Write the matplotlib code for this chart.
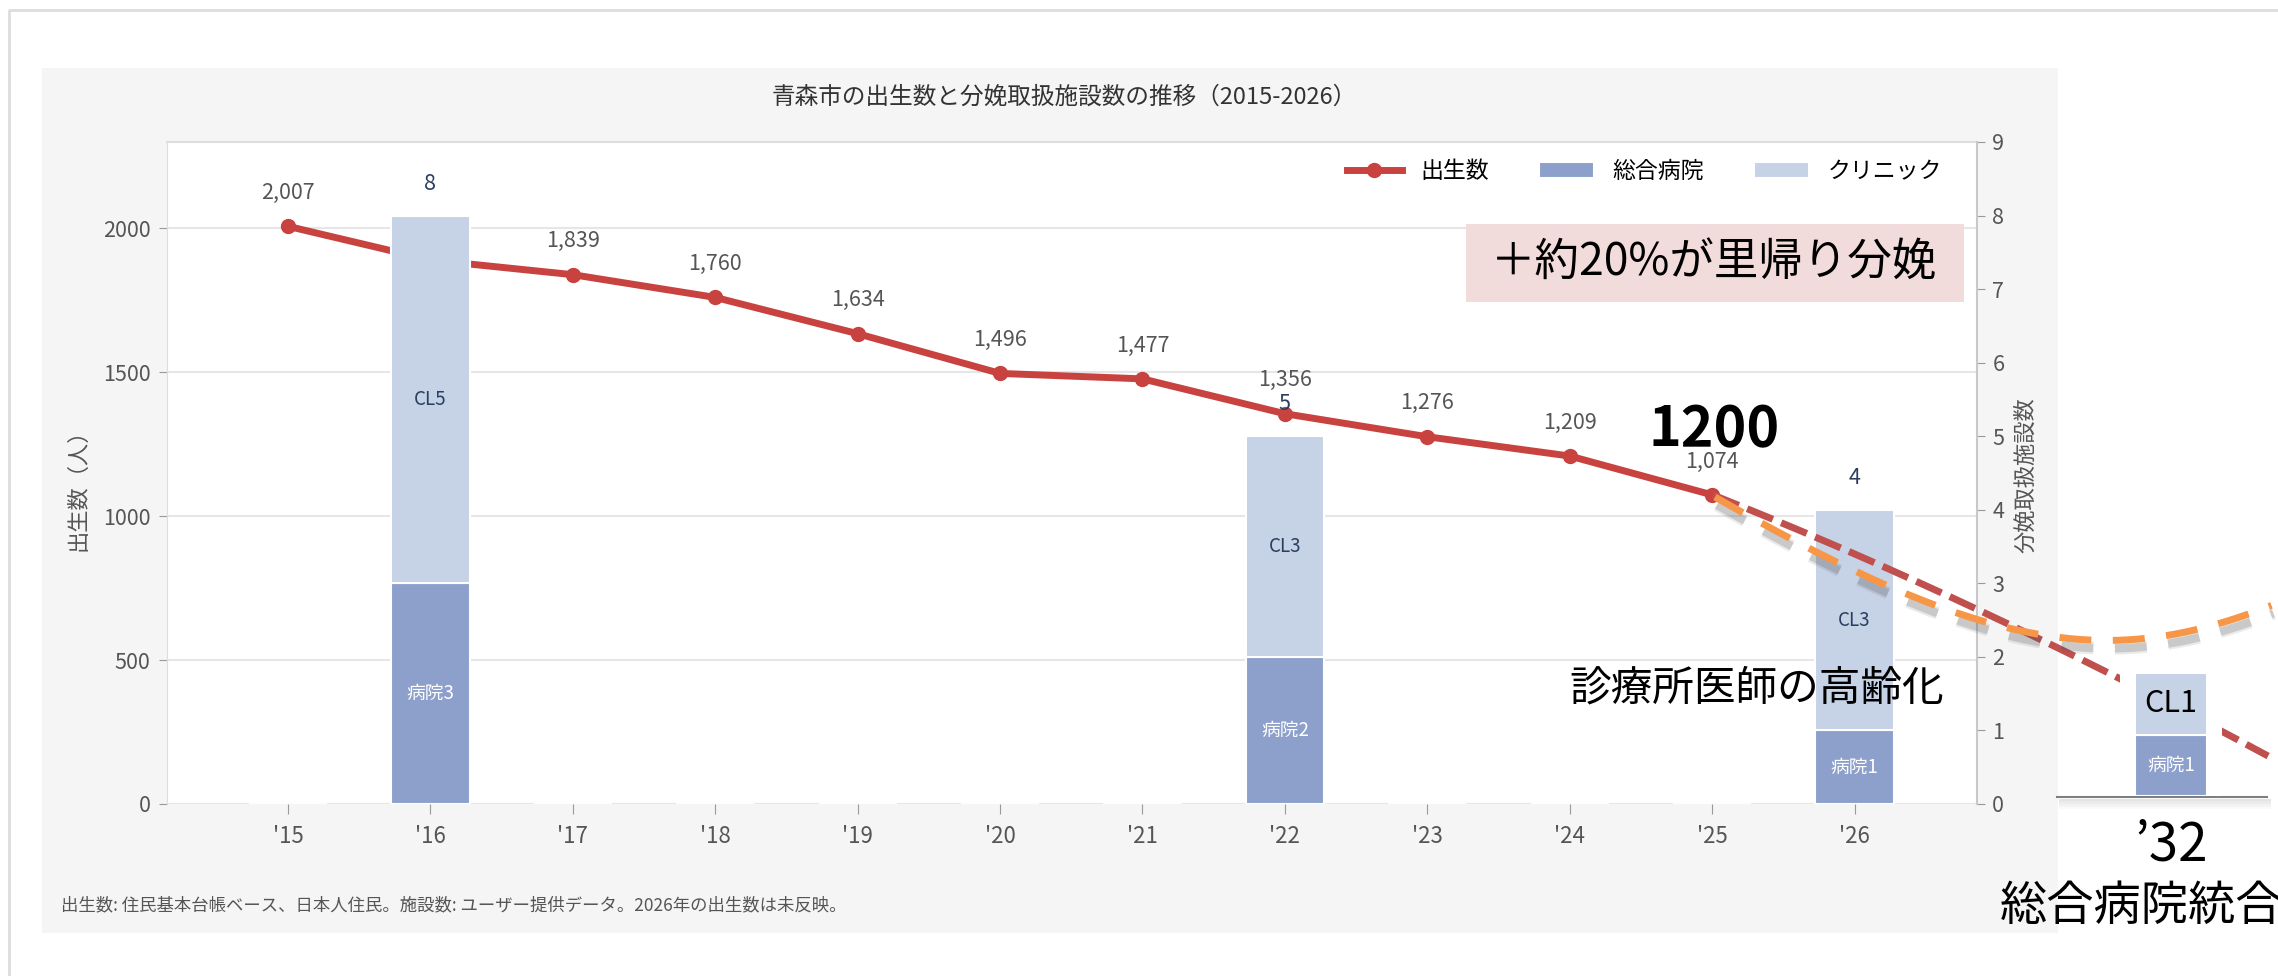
import numpy as np
import matplotlib
matplotlib.use('Agg')
import matplotlib.pyplot as plt
from matplotlib.patches import Rectangle
from matplotlib.lines import Line2D

plt.rcParams['font.family'] = ['Noto Sans CJK JP', 'DejaVu Sans']

W, H = 2278, 976

# Data
year_labels = ["'15", "'16", "'17", "'18", "'19", "'20", "'21", "'22", "'23", "'24", "'25", "'26"]
births = [2007, 1890, 1839, 1760, 1634, 1496, 1477, 1356, 1276, 1209, 1074, np.nan]
hospitals = [0, 3, 0, 0, 0, 0, 0, 2, 0, 0, 0, 1]
clinics = [0, 5, 0, 0, 0, 0, 0, 3, 0, 0, 0, 3]

future_label = "’32"
future_hospitals = [1]
future_clinics = [1]

# Colours
c_line = '#c8423f'
c_hosp = '#8da0cb'
c_clinic = '#c6d2e6'
c_navy = '#2a3f5f'
c_red = '#c0504d'
c_orange = '#f79646'


def px(x, y):
    # image pixel -> figure fraction
    return x / W, 1 - y / H


fig = plt.figure(figsize=(W / 100, H / 100), dpi=100)
fig.patch.set_facecolor('white')

# card border + grey panel
fig.add_artist(Line2D([9 / W, 9 / W, 1], [0, 1 - 10 / H, 1 - 10 / H],
                      transform=fig.transFigure, color='#dddddd', lw=2))
x0, y0 = px(42, 933)
fig.add_artist(Rectangle((x0, y0), (2058 - 42) / W, (933 - 68) / H,
                         transform=fig.transFigure, facecolor='#f5f5f5',
                         edgecolor='none', zorder=-10))

# Main axes
l, b = px(167, 804)
ax = fig.add_axes([l, b, (1977 - 167) / W, (804 - 142) / H])
ax.set_facecolor('white')
x = np.arange(len(year_labels))

ax.plot(x, births, color=c_line, lw=5, marker='o', ms=10, label='出生数', zorder=3)
for i, v in enumerate(births):
    if not np.isnan(v):
        ax.annotate(f'{v:,}', (i, v), xytext=(0, 24), textcoords='offset points',
                    ha='center', va='center', fontsize=15.5, color='#555555')

ax.set_xlim(-0.85, 11.86)
ax.set_ylim(0, 2300)
ax.set_yticks([0, 500, 1000, 1500, 2000])
ax.set_xticks(x)
ax.set_xticklabels(year_labels)
ax.grid(axis='y', color='#e6e6e6', lw=1.5)
ax.set_axisbelow(True)
ax.tick_params(axis='y', length=6, color='#999999', labelcolor='#555555', labelsize=15.5, pad=6)
ax.tick_params(axis='x', length=7, color='#999999', labelcolor='#555555', labelsize=16, pad=8)
ax.spines['bottom'].set_visible(False)
ax.spines['right'].set_visible(False)
ax.spines['top'].set_color('#dddddd')
ax.spines['top'].set_linewidth(1.5)
ax.spines['left'].set_color('#dddddd')

# Facilities (right axis)
ax2 = ax.twinx()
b1 = ax2.bar(x, hospitals, width=0.55, color=c_hosp, edgecolor='white', lw=1.5, label='総合病院')
b2 = ax2.bar(x, clinics, width=0.55, bottom=hospitals, color=c_clinic, edgecolor='white', lw=1.5,
             label='クリニック')
for i in x:
    h, c = hospitals[i], clinics[i]
    if h > 0:
        ax2.text(i, h / 2, f'病院{h}', ha='center', va='center', fontsize=13.5, color='white')
    if c > 0:
        ax2.text(i, h + c / 2, f'CL{c}', ha='center', va='center', fontsize=13.5, color=c_navy)
    if h + c > 0:
        ax2.annotate(str(h + c), (i, h + c), xytext=(0, 23), textcoords='offset points',
                     ha='center', va='center', fontsize=15.5, color=c_navy)
ax2.set_ylim(0, 9)
ax2.set_yticks(range(10))
ax2.tick_params(axis='y', length=6, color='#999999', labelcolor='#555555', labelsize=15.5, pad=5)
for s in ['top', 'left', 'bottom']:
    ax2.spines[s].set_visible(False)
ax2.spines['right'].set_color('#c8c8c8')
ax2.spines['right'].set_linewidth(1.5)

handles = [ax.get_lines()[0], b1, b2]
ax2.legend(handles, ['出生数', '総合病院', 'クリニック'], ncol=3, loc='upper right',
           bbox_to_anchor=(0.987, 0.99), frameon=False, fontsize=16.5, borderpad=0,
           handlelength=2.4, handletextpad=0.8, columnspacing=2.2)

# Titles / labels
fig.text(*px(1064, 97), '青森市の出生数と分娩取扱施設数の推移（2015-2026）', ha='center', va='center',
         fontsize=17, color='#333333')
fig.text(*px(78, 484), '出生数（人）', rotation=90, ha='center', va='center', fontsize=16, color='#555555')
fig.text(*px(2026, 475), '分娩取扱施設数', rotation=90, ha='center', va='center', fontsize=16,
         color='#555555')
fig.text(*px(61, 905), '出生数: 住民基本台帳ベース、日本人住民。施設数: ユーザー提供データ。2026年の出生数は未反映。',
         ha='left', va='center', fontsize=12.5, color='#555555')

# Overlay (pixel coords) for hand annotations
ov = fig.add_axes([0, 0, 1, 1])
ov.set_xlim(0, W)
ov.set_ylim(H, 0)
ov.axis('off')
ov.patch.set_visible(False)


def bezier(pts, n=200):
    pts = np.asarray(pts, float)
    t = np.linspace(0, 1, n)[:, None]
    if len(pts) == 3:
        return (1 - t) ** 2 * pts[0] + 2 * (1 - t) * t * pts[1] + t ** 2 * pts[2]
    return ((1 - t) ** 3 * pts[0] + 3 * (1 - t) ** 2 * t * pts[1]
            + 3 * (1 - t) * t ** 2 * pts[2] + t ** 3 * pts[3])


red_path = bezier([(1713, 495), (1995, 607), (2292, 769)])
ov.plot(red_path[:-8, 0], red_path[:-8, 1], color=c_red, lw=5, dashes=(4, 1.3))
ov.annotate('', xy=red_path[-1], xytext=red_path[-12],
            arrowprops=dict(arrowstyle='-|>', color=c_red, lw=0, mutation_scale=40))

org_path = bezier([(1715, 497), (2000, 660), (2120, 670), (2292, 597)])
for lw_, a_ in [(9, 0.12), (6, 0.22)]:
    ov.plot(org_path[:-8, 0] + 2, org_path[:-8, 1] + 8, color='#555555', alpha=a_, lw=lw_,
            dashes=(4.6 * 5 / lw_, 3.1 * 5 / lw_), solid_capstyle='round')
ov.plot(org_path[:-8, 0], org_path[:-8, 1], color=c_orange, lw=5, dashes=(4.6, 3.1))
ov.annotate('', xy=org_path[-1], xytext=org_path[-12],
            arrowprops=dict(arrowstyle='-|>', color=c_orange, lw=0, mutation_scale=40))

ov.add_patch(Rectangle((1466, 224), 498, 78, facecolor='#f2dcdb', edgecolor='none'))
ov.text(1714, 262, '＋約20%が里帰り分娩', ha='center', va='center', fontsize=32, color='black')
ov.text(1714, 430, '1200', ha='center', va='center', fontsize=40, fontweight='bold', color='black')
ov.text(1757, 689, '診療所医師の高齢化', ha='center', va='center', fontsize=30, color='black')
ov.text(2171, 845, future_label, ha='center', va='center', fontsize=38, color='black')
ov.text(2000, 907, '総合病院統合', ha='left', va='center', fontsize=34, color='black')

# baseline of the '32 mini bar with soft shadow
for k, a_ in enumerate([0.10, 0.08, 0.06, 0.04, 0.02]):
    ov.plot([2060, 2270], [800 + 2 * k, 800 + 2 * k], color='black', alpha=a_, lw=1.5)
ov.plot([2057, 2267], [797, 797], color='#7f7f7f', lw=1.5)

# mini bar for '32
ml, mb = px(2120, 796)
mini = fig.add_axes([ml, mb, 102 / W, 126 / H])
mini.set_facecolor('white')
mini.bar([0], future_hospitals, width=0.7, color=c_hosp, edgecolor='white', lw=1.5)
mini.bar([0], future_clinics, width=0.7, bottom=future_hospitals, color=c_clinic,
         edgecolor='white', lw=1.5)
mini.text(0, future_hospitals[0] / 2, f'病院{future_hospitals[0]}', ha='center', va='center',
          fontsize=13.5, color='white')
mini.text(0, future_hospitals[0] + future_clinics[0] / 2, f'CL{future_clinics[0]}', ha='center',
          va='center', fontsize=22, color='black')
mini.set_xlim(-0.5, 0.5)
mini.set_ylim(0, 2.05)
mini.set_xticks([])
mini.set_yticks([])
for s in mini.spines.values():
    s.set_visible(False)

fig.savefig('out.png', dpi=100)
